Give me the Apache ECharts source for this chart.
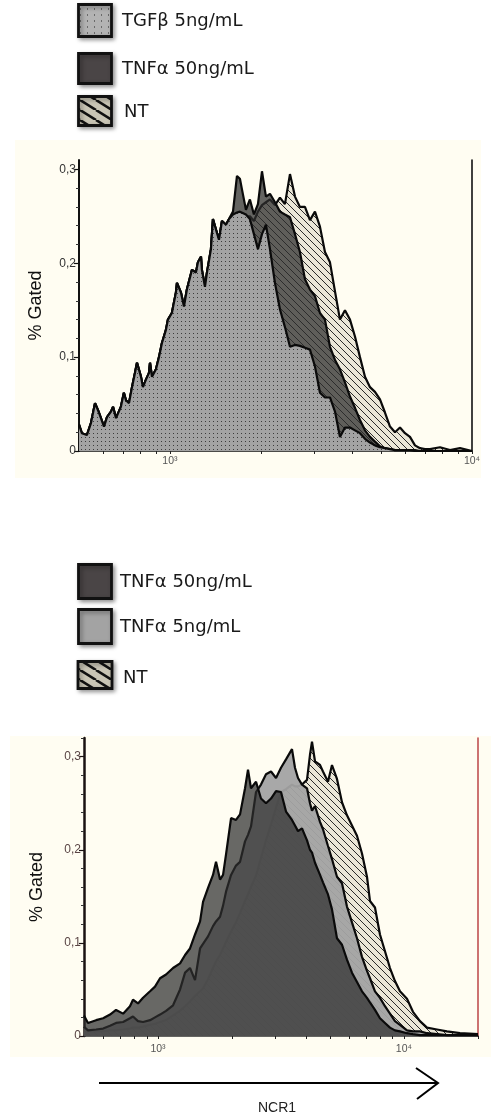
<!DOCTYPE html>
<html><head><meta charset="utf-8">
<script src="https://cdn.jsdelivr.net/npm/echarts@6/dist/echarts.min.js"></script>
<style>html,body{margin:0;padding:0;background:#fff}#c{width:496px;height:1117px}</style>
</head><body><div id="c"></div>
<script>
// ---------------- DATA ----------------
// Panel 1 (top): NCR1 intensity (log scale) and % gated
const ncr1Top = [500,511,531,548,565,582,605,619,638,648,663,688,704,715,732,749,766,778,802,814,833,852,859,872,899,920,941,970,985,1015,1047,1055,1087,1113,1138,1183,1219,1238,1267,1276,1306,1326,1367,1388,1420,1453,1487,1533,1568,
 1617,1667,1705,1731,1785,1840,1897,1956,2017,2079,2144,2227,2313,2403,2497,2594,2694,2799,2908,3021,3138,3260,3387,3519,3655,3797,3945,4098,4257,4423,4595,4773,4959,5151,5352,5560,5776,6000,6233,6475,6727,6988,7260,7835,8456,9126,10000];
const tgfb5Top = [0.028,0.019,0.017,0.030,0.051,0.041,0.026,0.036,0.042,0.047,0.035,0.047,0.062,0.054,0.051,0.068,0.083,0.094,0.079,0.068,0.076,0.083,0.094,0.079,0.087,0.100,0.115,0.129,0.140,0.147,0.169,0.179,0.169,0.154,0.172,0.193,0.190,0.201,0.207,0.193,0.175,0.190,0.215,0.247,0.236,0.225,0.245,0.241,0.247,
 0.252,0.254,0.255,0.254,0.252,0.247,0.231,0.215,0.231,0.241,0.215,0.179,0.151,0.132,0.111,0.113,0.112,0.110,0.108,0.090,0.062,0.057,0.057,0.042,0.015,0.025,0.025,0.022,0.019,0.013,0.009,0.006,0.004,0.003,0.002,0.001,0.001,0.001,0.001,0,0,0,0,0,0,0,0];
const tnf50Top = [0.028,0.019,0.017,0.030,0.051,0.041,0.026,0.036,0.042,0.047,0.035,0.047,0.062,0.054,0.051,0.068,0.083,0.094,0.079,0.068,0.076,0.083,0.094,0.079,0.087,0.100,0.115,0.129,0.140,0.147,0.169,0.179,0.169,0.154,0.172,0.193,0.190,0.201,0.207,0.193,0.175,0.190,0.215,0.247,0.236,0.225,0.245,0.241,0.247,
 0.255,0.293,0.290,0.279,0.257,0.268,0.252,0.263,0.298,0.271,0.274,0.265,0.255,0.252,0.249,0.231,0.212,0.183,0.172,0.165,0.147,0.140,0.111,0.097,0.087,0.073,0.058,0.046,0.033,0.022,0.015,0.010,0.005,0.003,0.002,0.001,0.001,0.001,0.001,0.001,0,0,0,0,0,0,0];
const ntTop = [0.028,0.019,0.017,0.030,0.051,0.041,0.026,0.036,0.042,0.047,0.035,0.047,0.062,0.054,0.051,0.068,0.083,0.094,0.079,0.068,0.076,0.083,0.094,0.079,0.087,0.100,0.115,0.129,0.140,0.147,0.169,0.179,0.169,0.154,0.172,0.193,0.190,0.201,0.207,0.193,0.175,0.190,0.215,0.247,0.236,0.225,0.245,0.241,0.247,
 0.250,0.245,0.250,0.252,0.250,0.250,0.245,0.255,0.262,0.265,0.268,0.262,0.270,0.263,0.295,0.271,0.260,0.260,0.246,0.255,0.239,0.212,0.201,0.170,0.140,0.150,0.140,0.122,0.100,0.079,0.068,0.063,0.055,0.041,0.026,0.020,0.025,0.019,0.015,0.006,0.003,0.002,0.002,0.004,0.001,0.003,0];

// Panel 2 (bottom)
const ncr1Bottom = [500,519,560,598,638,675,721,769,791,829,869,928,972,1019,1078,1151,1229,1288,1349,1414,
 1482,1524,1597,1673,1721,1787,1838,1890,1981,2075,2155,2258,2322,2388,2503,2622,2748,2880,3018,3162,
 3314,3505,3605,3708,3849,4034,4148,4227,4347,4556,4685,4910,5097,5341,5597,5865,6146,6441,6750,7073,
 7274,7623,7988,8371,8772,9192,9633,10285,10880,11617,12404,13620,14955,16892,20000];
const tnf50Bottom = [0.022,0.014,0.017,0.019,0.023,0.028,0.024,0.032,0.039,0.035,0.041,0.048,0.053,0.062,0.066,0.073,0.078,0.087,0.094,0.109,
 0.123,0.144,0.159,0.173,0.187,0.168,0.173,0.195,0.234,0.232,0.238,0.266,0.286,0.266,0.273,0.255,0.250,0.255,0.263,0.262,
 0.241,0.232,0.226,0.220,0.223,0.210,0.200,0.197,0.186,0.173,0.165,0.152,0.136,0.105,0.098,0.082,0.068,0.058,0.048,0.041,
 0.036,0.028,0.019,0.014,0.009,0.006,0.005,0.003,0.002,0.001,0.001,0.001,0.001,0.001,0.001];
const tnf5Bottom = [0.010,0.006,0.007,0.008,0.011,0.014,0.015,0.019,0.021,0.016,0.015,0.017,0.020,0.023,0.027,0.033,0.050,0.068,0.073,0.060,
 0.094,0.099,0.107,0.118,0.123,0.128,0.140,0.155,0.173,0.183,0.187,0.209,0.216,0.225,0.262,0.270,0.281,0.284,0.277,0.288,
 0.297,0.308,0.288,0.277,0.270,0.266,0.250,0.242,0.247,0.230,0.222,0.204,0.190,0.171,0.164,0.139,0.122,0.105,0.085,0.070,
 0.062,0.048,0.041,0.032,0.024,0.016,0.012,0.006,0.005,0.005,0.003,0.002,0.001,0.001,0.001];
const ntBottom = [0.005,0.005,0.005,0.005,0.006,0.006,0.007,0.008,0.009,0.009,0.010,0.012,0.013,0.015,0.017,0.022,0.027,0.032,0.037,0.043,
 0.048,0.051,0.061,0.073,0.080,0.087,0.094,0.101,0.112,0.122,0.132,0.145,0.152,0.160,0.172,0.191,0.210,0.227,0.245,0.262,
 0.265,0.270,0.268,0.268,0.270,0.275,0.302,0.316,0.295,0.291,0.284,0.273,0.291,0.276,0.251,0.237,0.226,0.215,0.196,0.171,
 0.145,0.138,0.109,0.091,0.073,0.059,0.048,0.040,0.026,0.016,0.009,0.007,0.005,0.003,0.002];

const legendTop = ['TGFβ 5ng/mL', 'TNFα 50ng/mL', 'NT'];
const legendBottom = ['TNFα 50ng/mL', 'TNFα 5ng/mL', 'NT'];
const yTickValues = [0, 0.1, 0.2, 0.3];
const yTickLabels = ['0', '0,1', '0,2', '0,3'];
const yMinorValues = [0.02,0.04,0.06,0.08,0.12,0.14,0.16,0.18,0.22,0.24,0.26,0.28,0.32];
const xTickValuesTop = [600,700,800,900,1000,2000,3000,4000,5000,6000,7000,8000,9000,10000];
const xTickValuesBottom = [600,700,800,900,1000,2000,3000,4000,5000,6000,7000,8000,9000,10000,20000];
const xLabelValues = [1000, 10000];
const xTickLabels = ['10³', '10⁴'];
const yAxisTitle = '% Gated';
const xAxisTitle = 'NCR1';

// ---------------- PATTERNS ----------------
function dots(bg, dot, w, h) {
  const c = document.createElement('canvas'); c.width = w; c.height = h;
  const g = c.getContext('2d'); g.fillStyle = bg; g.fillRect(0, 0, w, h);
  g.fillStyle = dot; g.fillRect(1, 1, 1, 1); return c;
}
function hatch(bg, line, w, h, lw) {
  const c = document.createElement('canvas'); c.width = w; c.height = h;
  const g = c.getContext('2d'); g.fillStyle = bg; g.fillRect(0, 0, w, h);
  g.strokeStyle = line; g.lineWidth = lw; g.beginPath();
  for (const o of [-w, 0, w]) { g.moveTo(o, 0); g.lineTo(o + w, h); }
  g.stroke(); return c;
}
function legendDots() {
  const c = document.createElement('canvas'); c.width = 7; c.height = 6;
  const g = c.getContext('2d'); g.fillStyle = '#b3b3b3'; g.fillRect(0, 0, 7, 6);
  g.fillStyle = '#6a6a6a'; g.fillRect(3, 2, 1, 2); return c;
}
const pat = (cv) => ({ image: cv, repeat: 'repeat' });
const dotFill = pat(dots('#a3a3a3', '#3c3c3c', 4, 4));
const hatchFill = pat(hatch('#ebe7d8', '#2a2a2a', 7, 7, 1));
const legDotFill = pat(legendDots());
const legHatchFill = pat(hatch('#c9c5b5', '#111', 16, 10, 2.6));

// ---------------- OPTION ----------------
const FONT = 'Liberation Sans';
function histo(name, xs, ys, gi, fill, opacity, z) {
  return {
    type: 'line', name, xAxisIndex: gi, yAxisIndex: gi * 3,
    data: xs.map((x, i) => [x, ys[i]]),
    showSymbol: false, symbol: 'none', z, silent: true, animation: false,
    lineStyle: { color: '#0a0a0a', width: 2.2 },
    areaStyle: { color: fill, opacity: opacity, origin: 'start' }
  };
}
function xAxisDef(gi, max, ticks, lineColor, margin) {
  return {
    type: 'log', logBase: 10, gridIndex: gi, min: 500, max: max,
    axisLine: { show: true, onZero: false, lineStyle: { color: lineColor, width: 1.5 } },
    axisTick: { show: true, customValues: ticks, length: 3, lineStyle: { color: '#222', width: 1 } },
    axisLabel: { customValues: xLabelValues, margin: margin, fontSize: 10.5, fontFamily: FONT, color: '#555',
      formatter: v => xTickLabels[xLabelValues.indexOf(Math.round(v))] || '' },
    splitLine: { show: false }, minorTick: { show: false }
  };
}
function yAxesDef(gi, max, lineColor, lw, labelColor, rightColor, gap) {
  return [
    { type: 'value', gridIndex: gi, min: 0, max: max, position: 'left',
      name: yAxisTitle, nameLocation: 'middle', nameRotate: 90, nameGap: gap,
      nameTextStyle: { fontSize: 18, fontFamily: FONT, color: '#111' },
      axisLine: { show: true, lineStyle: { color: lineColor, width: lw } },
      axisTick: { show: true, customValues: yTickValues, length: 5, lineStyle: { color: lineColor, width: 1.2 } },
      axisLabel: { customValues: yTickValues, margin: 3, fontSize: 12, fontFamily: FONT, color: labelColor,
        formatter: v => yTickLabels[yTickValues.findIndex(t => Math.abs(t - v) < 1e-6)] },
      splitLine: { show: false } },
    { type: 'value', gridIndex: gi, min: 0, max: max, position: 'left',
      axisLine: { show: false },
      axisTick: { show: true, customValues: yMinorValues, length: 3, lineStyle: { color: '#333', width: 1 } },
      axisLabel: { show: false }, splitLine: { show: false } },
    { type: 'value', gridIndex: gi, min: 0, max: max, position: 'right',
      axisLine: { show: true, lineStyle: { color: rightColor, width: 1.6 } },
      axisTick: { show: false }, axisLabel: { show: false }, splitLine: { show: false } }
  ];
}

const graphics = [
  { type: 'rect', z: -100, silent: true, shape: { x: 15, y: 140, width: 466, height: 338 }, style: { fill: '#fffdf2' } },
  { type: 'rect', z: -100, silent: true, shape: { x: 10, y: 736, width: 481, height: 321 }, style: { fill: '#fffdf2' } }
];
function legendItem(x, y, w, h, fill, label, tx, ty) {
  graphics.push({ type: 'rect', z: 10, shape: { x, y, width: w, height: h },
    style: { fill, stroke: '#111', lineWidth: 2.8, shadowBlur: 4, shadowOffsetX: 2, shadowOffsetY: 2, shadowColor: 'rgba(0,0,0,0.35)' } });
  graphics.push({ type: 'text', z: 10, x: tx, y: ty,
    style: { text: label, fill: '#1a1a1a', font: '18px "DejaVu Sans"', align: 'left', verticalAlign: 'middle' } });
}
legendItem(78.5, 4.5, 33, 32, legDotFill, legendTop[0], 122, 21);
legendItem(78.5, 53.5, 33, 30, '#4a4546', legendTop[1], 122, 69);
legendItem(78.5, 96.5, 33, 29, legHatchFill, legendTop[2], 124, 112);
legendItem(78.5, 564.5, 33, 34, '#4a4546', legendBottom[0], 120, 582);
legendItem(78.5, 609.5, 33, 34, '#a3a3a3', legendBottom[1], 120, 627);
legendItem(78, 661.5, 34, 27, legHatchFill, legendBottom[2], 123, 678);
// NCR1 arrow
graphics.push({ type: 'line', z: 10, shape: { x1: 99, y1: 1083, x2: 437, y2: 1083 }, style: { stroke: '#000', lineWidth: 2 } });
graphics.push({ type: 'polyline', z: 10, shape: { points: [[416, 1068], [438, 1083], [417, 1099]] }, style: { stroke: '#000', lineWidth: 2, fill: null } });
graphics.push({ type: 'text', z: 10, x: 277, y: 1108,
  style: { text: xAxisTitle, fill: '#222', font: '14px "Liberation Sans"', align: 'center', verticalAlign: 'middle' } });

const option = {
  animation: false,
  backgroundColor: '#ffffff',
  grid: [
    { left: 79, top: 160, width: 393, height: 291, containLabel: false, outerBoundsMode: 'none' },
    { left: 84, top: 738, width: 394, height: 298, containLabel: false, outerBoundsMode: 'none' }
  ],
  xAxis: [ xAxisDef(0, 10000, xTickValuesTop, '#111', 5), xAxisDef(1, 20000, xTickValuesBottom, '#333', 8) ],
  yAxis: [].concat(
    yAxesDef(0, 0.31, '#111', 2, '#333', '#111', 34),
    yAxesDef(1, 0.32, '#1a1212', 2.5, '#5a4545', '#c05050', 38)
  ),
  series: [
    histo('NT', ncr1Top, ntTop, 0, hatchFill, 1, 2),
    histo('TNFα 50ng/mL', ncr1Top, tnf50Top, 0, '#2e2e2e', 0.74, 3),
    histo('TGFβ 5ng/mL', ncr1Top, tgfb5Top, 0, dotFill, 1, 4),
    histo('NT', ncr1Bottom, ntBottom, 1, hatchFill, 1, 2),
    histo('TNFα 5ng/mL', ncr1Bottom, tnf5Bottom, 1, '#a3a3a3', 0.95, 3),
    histo('TNFα 50ng/mL', ncr1Bottom, tnf50Bottom, 1, '#2e2e2e', 0.72, 4)
  ],
  graphic: graphics
};
const chart = echarts.init(document.getElementById('c'), null, { renderer: 'canvas', width: 496, height: 1117 });
chart.setOption(option);
</script>
</body></html>
